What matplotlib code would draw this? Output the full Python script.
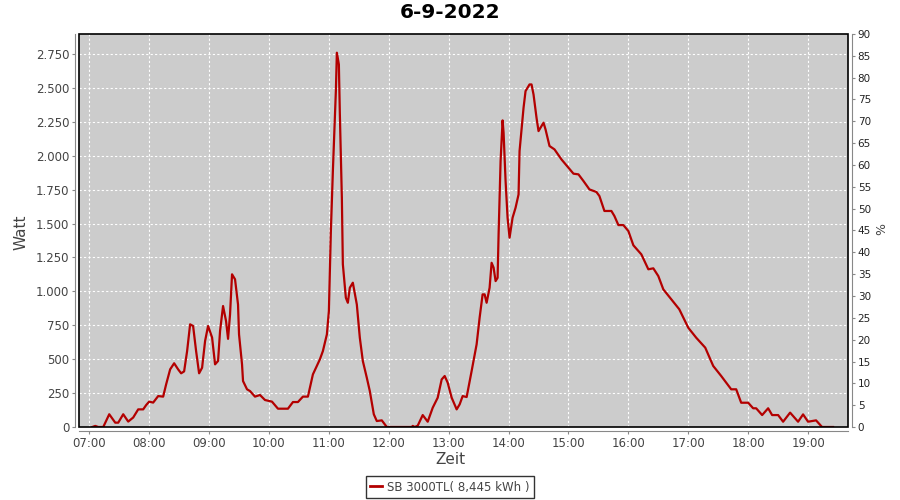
import matplotlib
matplotlib.use("Agg")
import matplotlib.pyplot as plt
from matplotlib.patches import Rectangle
from matplotlib.lines import Line2D
from matplotlib.ticker import FuncFormatter, MultipleLocator

# power readings of the inverter over the day
times = ["07:03", "07:06", "07:09", "07:14", "07:20", "07:26", "07:29", "07:34", "07:39", "07:44",
         "07:49", "07:54", "07:57", "08:00", "08:04", "08:09", "08:14", "08:17", "08:21", "08:25",
         "08:29", "08:32", "08:35", "08:38", "08:41", "08:44", "08:47", "08:50", "08:53", "08:56",
         "08:59", "09:03", "09:06", "09:09", "09:11", "09:14", "09:17", "09:19", "09:21", "09:23",
         "09:26", "09:29", "09:30", "09:33", "09:34", "09:38", "09:41", "09:46", "09:51", "09:56",
         "10:03", "10:09", "10:19", "10:24", "10:29", "10:34", "10:39", "10:44", "10:51", "10:54",
         "10:58", "11:00", "11:02", "11:04", "11:07", "11:08", "11:10", "11:11", "11:13", "11:14",
         "11:17", "11:19", "11:21", "11:24", "11:28", "11:31", "11:34", "11:38", "11:41", "11:45",
         "11:48", "11:53", "11:58", "12:23", "12:24", "12:26", "12:29", "12:34", "12:39", "12:44",
         "12:49", "12:53", "12:56", "12:59", "13:03", "13:08", "13:11", "13:14", "13:18", "13:23",
         "13:28", "13:31", "13:34", "13:36", "13:38", "13:41", "13:43", "13:45", "13:47", "13:49",
         "13:50", "13:52", "13:54", "13:55", "13:57", "13:59", "14:01", "14:04", "14:07", "14:10",
         "14:11", "14:15", "14:17", "14:21", "14:23", "14:25", "14:28", "14:30", "14:35", "14:37",
         "14:41", "14:46", "14:53", "15:00", "15:05", "15:10", "15:15", "15:21", "15:28", "15:31",
         "15:36", "15:43", "15:46", "15:50", "15:55", "16:00", "16:05", "16:13", "16:20", "16:25",
         "16:30", "16:35", "16:43", "16:51", "17:00", "17:08", "17:17", "17:25", "17:33", "17:43",
         "17:48", "17:53", "18:00", "18:05", "18:08", "18:14", "18:20", "18:24", "18:30", "18:35",
         "18:42", "18:50", "18:55", "19:00", "19:08", "19:14", "19:25"]
watt = [0, 8, 0, 0, 94, 32, 32, 94, 40, 70,
        130, 130, 162, 187, 180, 228, 224, 315, 425, 470,
        425, 396, 410, 560, 757, 745, 560, 396, 437, 634,
        745, 660, 462, 487, 708, 892, 781, 650, 831, 1126,
        1089, 903, 683, 462, 339, 278, 265, 224, 236, 199,
        187, 135, 135, 184, 184, 224, 224, 388, 499, 560,
        683, 855, 1445, 1887, 2477, 2760, 2674, 2305, 1690, 1200,
        953, 916, 1027, 1064, 903, 658, 487, 363, 265, 94,
        44, 49, 0, 0, 8, 0, 10, 88, 39, 142,
        216, 351, 376, 327, 216, 130, 167, 228, 221, 413,
        610, 806, 978, 978, 916, 1027, 1211, 1175, 1076, 1100,
        1420, 1961, 2261, 2170, 1814, 1543, 1396, 1543, 1617, 1715,
        2035, 2354, 2477, 2526, 2526, 2452, 2280, 2182, 2244, 2195,
        2072, 2047, 1973, 1912, 1868, 1863, 1814, 1752, 1733, 1703,
        1593, 1593, 1556, 1489, 1489, 1445, 1340, 1273, 1163, 1170,
        1113, 1015, 941, 868, 732, 658, 585, 450, 376, 278,
        278, 179, 179, 138, 138, 88, 138, 88, 88, 39,
        106, 39, 93, 39, 49, 0, 0]

title = "6-9-2022"
series_name = "SB 3000TL( 8,445 kWh )"

hours = [int(t[:2]) + int(t[3:]) / 60 for t in times]

red = "#b30000"
grey = "#888888"
txt = "#444444"

fig = plt.figure(figsize=(9, 5), dpi=100)
ax = fig.add_axes([79 / 900, 73 / 500, 769 / 900, 393 / 500])
ax.set_facecolor("#cccccc")

ax.plot(hours, watt, color=red, linewidth=1.6, zorder=3)

ax.set_xlim(6 + 49.7 / 60, 19 + 40 / 60)
ax.set_ylim(0, 2898)
ax.xaxis.set_major_locator(MultipleLocator(1))
ax.xaxis.set_major_formatter(FuncFormatter(lambda v, p: "%02d:00" % round(v)))
ax.yaxis.set_major_locator(MultipleLocator(250))
ax.yaxis.set_major_formatter(FuncFormatter(lambda v, p: "{:,.0f}".format(v).replace(",", ".")))
ax.grid(color="white", linestyle=(0, (2, 2)), linewidth=0.8)
ax.set_axisbelow(True)

for s in ["top", "right"]:
    ax.spines[s].set_visible(False)
for s in ["left", "bottom"]:
    ax.spines[s].set_position(("outward", 3))
    ax.spines[s].set_color(grey)
ax.tick_params(length=2, color=grey, labelcolor=txt, labelsize=8.5, pad=2)

ax2 = ax.twinx()
ax2.set_ylim(0, 90)
ax2.yaxis.set_major_locator(MultipleLocator(5))
for s in ["top", "left", "bottom"]:
    ax2.spines[s].set_visible(False)
ax2.spines["right"].set_position(("outward", 3))
ax2.spines["right"].set_color(grey)
ax2.tick_params(length=2, color=grey, labelcolor="#222222", labelsize=7.5, pad=2)

ax.add_patch(Rectangle((0, 0), 1, 1, transform=ax.transAxes, fill=False,
                       edgecolor="black", linewidth=1.2, clip_on=False, zorder=5))

fig.text(0.5, 1 - 13 / 500, title, ha="center", va="center", fontsize=14.5, fontweight="bold")
fig.text(450 / 900, 1 - 460 / 500, "Zeit", ha="center", va="center", fontsize=11, color=txt)
fig.text(21 / 900, 1 - 232 / 500, "Watt", ha="center", va="center", fontsize=11, color=txt, rotation=90)
fig.text(882 / 900, 1 - 229 / 500, "%", ha="center", va="center", fontsize=9, color=txt, rotation=90)

handle = Line2D([], [], color=red, linewidth=2)
leg = fig.legend([handle], [series_name], loc="center", bbox_to_anchor=(450 / 900, 1 - 487 / 500),
                 fontsize=8.5, frameon=True, fancybox=False, handlelength=1.0, handletextpad=0.4,
                 borderpad=0.35, borderaxespad=0)
leg.get_frame().set_edgecolor("black")
leg.get_frame().set_linewidth(1)
for t in leg.get_texts():
    t.set_color(txt)

fig.savefig("out.png", dpi=100)
